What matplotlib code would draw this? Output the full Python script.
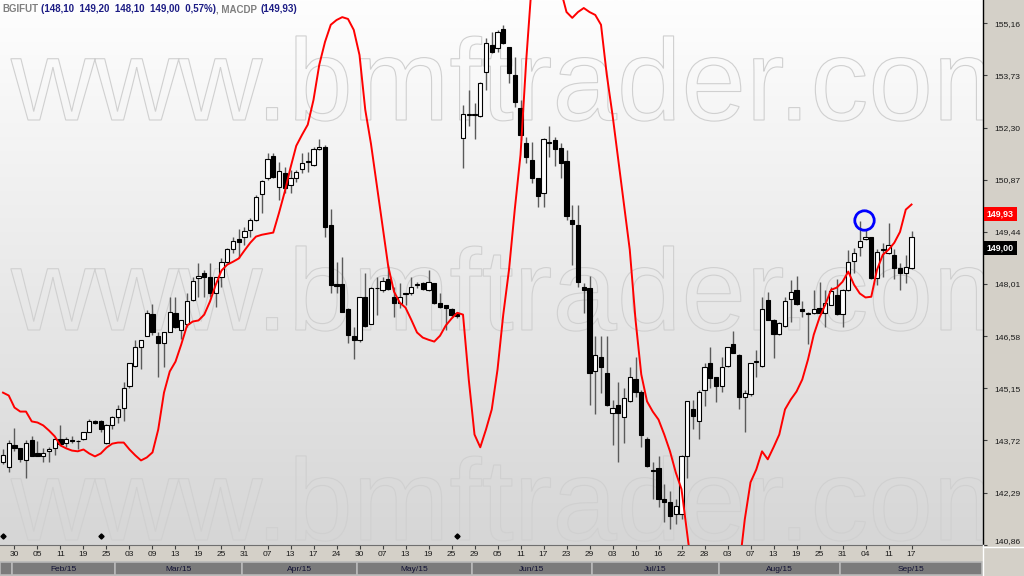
import matplotlib
matplotlib.use("Agg")
import matplotlib.pyplot as plt
import numpy as np
import pandas as pd
from matplotlib.colors import LinearSegmentedColormap
from matplotlib.textpath import TextPath
from matplotlib.patches import PathPatch
from matplotlib.font_manager import FontProperties
from matplotlib.transforms import Affine2D, blended_transform_factory
from matplotlib.lines import Line2D

plt.rcParams['font.family'] = ['Liberation Sans', 'DejaVu Sans']

# BM&F trading calendar, Jan 28 - Sep 17 2015
holidays = ['2015-02-16', '2015-02-17', '2015-04-03', '2015-04-21',
            '2015-05-01', '2015-06-04', '2015-07-09', '2015-09-07']
dates = pd.bdate_range('2015-01-28', '2015-09-17', freq='C', holidays=holidays)

opens = [143.14, 142.98, 143.59, 143.50, 143.17, 143.74, 143.36, 143.28, 143.42, 143.50,
         143.77, 143.66, 143.74, 143.69, 143.77, 143.96, 144.24, 144.24, 143.66, 144.13,
         144.37, 144.62, 145.20, 145.77, 146.27, 146.57, 147.20, 146.59, 146.40, 146.70,
         147.22, 146.76, 146.90, 147.58, 148.18, 148.32, 148.21, 147.77, 148.21, 148.62,
         148.98, 149.25, 149.31, 149.50, 149.77, 150.48, 150.92, 151.53, 150.68, 151.06,
         150.73, 150.92, 151.17, 151.36, 151.28, 151.72, 151.77, 149.64, 148.02, 148.02,
         147.33, 146.59, 146.46, 147.64, 146.92, 147.89, 147.85, 148.16, 147.66, 147.50,
         147.74, 147.77, 147.99, 148.05, 147.85, 148.05, 147.50, 147.44, 147.33, 147.22,
         152.02, 152.65, 152.65, 152.62, 153.83, 154.57, 154.48, 155.01, 154.51, 153.75,
         152.84, 151.88, 151.42, 150.92, 150.51, 151.88, 151.96, 151.75, 151.39, 149.77,
         149.64, 147.94, 147.91, 145.61, 146.02, 145.58, 144.46, 144.70, 144.35, 144.79,
         145.39, 145.06, 143.77, 142.92, 142.95, 142.10, 142.02, 141.69, 141.69, 143.28,
         144.57, 144.24, 145.11, 145.85, 145.47, 145.20, 145.77, 146.35, 146.07, 144.92,
         144.98, 145.88, 145.77, 147.58, 147.03, 146.65, 146.87, 147.61, 147.85, 147.33,
         147.20, 147.22, 147.36, 147.22, 147.44, 147.72, 147.20, 147.85, 148.65, 149.03,
         149.25, 149.31, 148.18, 148.95, 148.87, 148.81, 148.46, 148.32, 148.46]
highs = [143.47, 143.74, 144.07, 143.52, 143.74, 143.85, 143.69, 143.50, 143.55, 143.80,
         144.13, 143.82, 143.85, 143.74, 143.94, 144.32, 144.29, 144.27, 144.18, 144.40,
         144.68, 145.31, 145.85, 146.46, 146.48, 147.31, 147.47, 146.68, 146.70, 147.64,
         147.64, 147.03, 147.77, 148.21, 148.59, 148.40, 148.59, 148.21, 148.73, 149.01,
         149.31, 149.53, 149.58, 149.83, 150.46, 150.87, 151.61, 151.61, 151.36, 151.22,
         151.14, 151.14, 151.61, 151.64, 151.77, 151.99, 151.83, 150.07, 148.62, 148.76,
         147.36, 146.84, 147.66, 148.32, 147.94, 148.21, 148.21, 148.54, 147.94, 148.05,
         147.77, 148.21, 148.07, 148.07, 148.40, 148.05, 147.77, 147.44, 147.36, 147.25,
         152.92, 153.33, 152.98, 153.55, 154.76, 154.92, 154.98, 155.12, 154.51, 154.24,
         153.06, 152.05, 151.91, 150.92, 152.02, 152.35, 152.05, 151.88, 151.69, 150.18,
         150.18, 148.05, 148.24, 146.57, 146.57, 146.57, 144.84, 145.33, 145.17, 145.74,
         146.02, 145.11, 143.80, 143.14, 143.28, 142.51, 142.32, 142.10, 143.33, 144.79,
         144.84, 145.11, 145.85, 146.27, 145.47, 146.02, 146.29, 146.73, 146.10, 145.11,
         145.85, 146.21, 147.64, 147.80, 147.06, 146.98, 147.66, 148.13, 148.24, 147.53,
         147.25, 147.85, 148.07, 147.85, 147.94, 148.16, 147.88, 148.95, 149.01, 149.75,
         149.50, 149.31, 148.98, 149.14, 149.69, 148.98, 148.59, 148.81, 149.47]
lows = [143.06, 142.84, 143.42, 143.14, 142.68, 143.28, 143.28, 143.12, 143.12, 143.31,
        143.58, 143.55, 143.66, 143.47, 143.74, 143.94, 144.18, 143.96, 143.61, 144.02,
        144.21, 144.24, 145.17, 145.74, 145.69, 146.57, 146.62, 145.47, 145.72, 146.68,
        146.81, 146.51, 146.84, 147.55, 147.66, 147.66, 147.66, 147.39, 147.94, 148.59,
        148.87, 148.73, 149.09, 149.31, 149.75, 149.96, 150.87, 150.92, 150.32, 150.51,
        150.51, 150.81, 151.06, 151.09, 151.25, 151.69, 149.31, 147.77, 147.77, 147.25,
        146.40, 145.96, 146.43, 146.84, 146.90, 147.17, 147.80, 147.85, 147.11, 147.36,
        147.44, 147.72, 147.91, 147.85, 147.83, 147.47, 147.36, 146.76, 147.11, 147.08,
        151.20, 152.35, 151.99, 152.59, 153.33, 154.35, 154.38, 154.59, 153.53, 152.87,
        151.96, 151.33, 150.79, 150.13, 150.13, 151.50, 151.25, 150.92, 149.77, 148.54,
        147.94, 147.22, 144.70, 144.43, 145.03, 144.65, 143.58, 143.12, 143.66, 144.76,
        144.92, 143.53, 142.98, 142.10, 141.88, 141.47, 141.28, 141.42, 141.55, 142.70,
        144.02, 143.77, 144.65, 145.17, 144.76, 145.06, 145.72, 146.13, 144.57, 143.94,
        144.95, 145.47, 145.74, 147.01, 145.99, 146.62, 146.84, 146.98, 147.44, 147.11,
        146.35, 147.20, 147.22, 146.84, 147.42, 147.17, 146.84, 147.83, 148.32, 148.79,
        149.22, 148.16, 147.99, 148.21, 148.84, 148.16, 147.85, 148.05, 148.43]
closes = [143.33, 143.66, 143.52, 143.20, 143.66, 143.30, 143.28, 143.36, 143.47, 143.77,
          143.61, 143.77, 143.69, 143.70, 143.94, 144.24, 144.21, 144.02, 144.15, 144.37,
          144.59, 145.17, 145.83, 146.27, 146.46, 147.22, 146.68, 146.40, 146.68, 147.25,
          146.84, 147.01, 147.53, 148.10, 148.24, 148.21, 147.77, 148.21, 148.62, 148.98,
          149.20, 149.17, 149.47, 149.77, 150.40, 150.84, 151.44, 150.95, 151.11, 150.65,
          150.92, 151.09, 151.33, 151.39, 151.72, 151.77, 149.58, 147.99, 147.96, 147.25,
          146.62, 146.46, 147.64, 146.87, 147.91, 147.91, 148.10, 147.88, 147.50, 147.64,
          147.75, 147.94, 148.00, 147.88, 148.07, 147.50, 147.39, 147.36, 147.17, 147.14,
          152.68, 152.66, 152.66, 153.53, 154.62, 154.38, 154.92, 154.62, 153.80, 153.01,
          152.10, 151.50, 150.92, 150.43, 151.99, 151.89, 151.72, 151.33, 149.88, 149.66,
          148.07, 147.85, 145.58, 146.05, 145.72, 144.68, 144.62, 144.48, 144.87, 145.47,
          145.06, 143.88, 143.01, 142.87, 142.10, 142.02, 141.64, 141.91, 143.28, 144.79,
          144.38, 145.06, 145.74, 145.44, 145.20, 145.74, 146.27, 146.13, 144.90, 145.03,
          145.85, 145.89, 147.33, 147.03, 146.65, 146.95, 147.53, 147.80, 147.47, 147.28,
          147.21, 147.33, 147.22, 147.50, 147.83, 147.20, 147.85, 148.62, 148.87, 149.20,
          149.31, 148.18, 148.90, 148.96, 149.09, 148.46, 148.32, 148.48, 149.31]
macdp = [145.03, 144.95, 144.62, 144.51, 144.51, 144.24, 144.21, 144.13, 143.99, 143.83,
         143.58, 143.50, 143.44, 143.42, 143.47, 143.36, 143.28, 143.36, 143.52, 143.63,
         143.66, 143.66, 143.47, 143.31, 143.17, 143.25, 143.39, 144.02, 145.03, 145.61,
         145.88, 146.35, 146.87, 146.98, 147.01, 147.17, 147.53, 147.99, 148.38, 148.54,
         148.62, 148.71, 148.93, 149.14, 149.31, 149.36, 149.39, 149.42, 149.96, 150.54,
         151.20, 151.80, 152.10, 152.38, 153.06, 154.02, 154.65, 155.12, 155.25, 155.33,
         155.28, 154.98, 154.29, 152.79, 151.85, 150.73, 149.61, 148.49, 147.80, 147.50,
         147.36, 147.03, 146.68, 146.54, 146.48, 146.43, 146.59, 146.87, 147.06, 147.22,
         147.17, 145.39, 143.88, 143.53, 144.02, 144.57, 145.66, 147.17, 148.40, 150.05,
         151.55, 154.16, 156.35, 157.44, 157.99, 157.72, 156.90, 156.07, 155.47, 155.31,
         155.47, 155.58, 155.47, 155.39, 155.12, 153.75, 152.65, 151.42, 150.18, 148.95,
         147.03, 145.53, 144.79, 144.51, 144.29, 143.88, 143.42, 142.84, 142.38, 141.14,
         139.91, 138.81, 137.99, 137.44, 137.31, 137.44, 137.85, 138.81, 140.18, 141.55,
         142.57, 142.92, 143.42, 143.20, 143.53, 143.88, 144.57, 144.84, 145.06, 145.39,
         145.94, 146.62, 147.09, 147.44, 147.85, 147.91, 148.07, 148.35, 147.99, 147.75,
         147.64, 147.66, 148.40, 148.81, 148.95, 149.14, 149.44, 150.05, 150.19]

# values quoted in the header / price scale tags
last_quote = [148.10, 149.20, 148.10, 149.00]   # open, high, low, close
change_pct = '0,57%'
macdp_last = 149.93
symbol = 'BGIFUT'
study = 'MACDP'

price_ticks = [140.86, 142.29, 143.72, 145.15, 146.58, 148.01, 149.44, 150.87, 152.30, 153.73, 155.16]
event_idx = [0, 17, 79]
event_price = 141.09
circle_idx, circle_price = 149.7, 149.77


def br(v):
    return f'{v:.2f}'.replace('.', ',')


W, H = 1024, 576
fig = plt.figure(figsize=(W / 100, H / 100), dpi=100, facecolor='#d4d0c8')
ax = fig.add_axes([0, 31 / H, 983 / W, 545 / H])

# plot background gradient
bg = LinearSegmentedColormap.from_list('bg', ['#d6d6d6', '#fefefe'])
ax.imshow(np.linspace(0, 1, 256).reshape(-1, 1), cmap=bg, extent=[0, 1, 0, 1],
          transform=ax.transAxes, aspect='auto', zorder=0, origin='lower')

# watermark
tp = TextPath((0, 0), 'www.bmftrader.com', size=116, prop=FontProperties(family='Liberation Sans'))
for base in (120, 330, 540):
    wm = PathPatch(tp, transform=Affine2D().translate(11, H - base), fc='none',
                   ec='#d0d0d0', lw=0.8, zorder=1)
    ax.add_patch(wm)

x = np.arange(len(dates))
o, hi, lo, c = map(np.array, (opens, highs, lows, closes))
up = c >= o
ax.vlines(x, lo, hi, color='#5a5a5a', lw=1, zorder=3)
bot = np.minimum(o, c)
hgt = np.maximum(np.abs(c - o), 0.015)
ax.bar(x[up], hgt[up], bottom=bot[up], width=0.72, color='white', edgecolor='black', lw=0.8, zorder=4)
ax.bar(x[~up], hgt[~up], bottom=bot[~up], width=0.72, color='black', edgecolor='black', lw=0.8, zorder=4)

ax.plot(x, macdp, color='#ff0000', lw=1.4, zorder=5)
ax.plot([circle_idx], [circle_price], 'o', ms=14, mfc='none', mec='#0000ff', mew=2, zorder=6)
ax.plot(event_idx, [event_price] * len(event_idx), 'D', ms=2.6, color='black', zorder=6)

ax.set_xlim(-0.52, 170.43)
ax.set_ylim(140.85, 155.80)

ax.yaxis.tick_right()
ax.set_yticks(price_ticks)
ax.set_yticklabels([br(v) for v in price_ticks])
ax.get_yticklabels()[0].set_va('bottom')
ax.tick_params(axis='y', direction='out', length=3, width=0.8, color='#404040',
               labelsize=6.1, labelcolor='#1a1a1a', pad=5)

xt = list(range(2, len(dates), 4))
ax.set_xticks(xt)
ax.set_xticklabels([dates[i].strftime('%d') for i in xt])
ax.tick_params(axis='x', direction='out', length=3, width=0.8, color='#404040',
               labelsize=6, labelcolor='#1a1a1a', pad=1.5)

for s in ('top', 'left'):
    ax.spines[s].set_visible(False)
ax.spines['right'].set_color('black')
ax.spines['right'].set_linewidth(1)
ax.spines['bottom'].set_color('#707070')
ax.spines['bottom'].set_linewidth(0.8)

# last value tags on the price scale
tr = blended_transform_factory(ax.transAxes, ax.transData)
ax.text(1.004, macdp_last, br(macdp_last), transform=tr, color='white', fontsize=6.4,
        fontweight='bold', va='center', ha='left', clip_on=False, zorder=10,
        bbox=dict(boxstyle='square,pad=0.3', fc='#ff0000', ec='none'))
ax.text(1.004, last_quote[3], br(last_quote[3]), transform=tr, color='white', fontsize=6.4,
        fontweight='bold', va='center', ha='left', clip_on=False, zorder=10,
        bbox=dict(boxstyle='square,pad=0.3', fc='black', ec='none'))

# header
renderer = fig.canvas.get_renderer()
parts = [(symbol, '#7f7f7f', 3),
         ('(' + '  '.join(br(v) for v in last_quote) + '  ' + change_pct + ')', '#1c1c84', 0),
         (', ' + study, '#7f7f7f', 3),
         ('(' + br(macdp_last) + ')', '#1c1c84', 0)]
xpos = 2
for txt, col, gap in parts:
    t = fig.text(xpos / W, 1 - 12 / H, txt, color=col, fontsize=7, fontweight='bold',
                 va='baseline', ha='left')
    xpos += t.get_window_extent(renderer).width + gap

# month bar
axm = fig.add_axes([0, 0, 983 / W, 15 / H], sharex=ax)
axm.set_facecolor('#d4d0c8')
axm.set_ylim(0, 1)
axm.axis('off')
month_start = [i for i in range(1, len(dates)) if dates[i].month != dates[i - 1].month]
edges = [-0.52] + [m - 1.5 for m in month_start] + [170.2]
for k in range(len(edges) - 1):
    axm.axvspan(edges[k], edges[k + 1], ymin=0.05, ymax=0.95, fc='#7b7b7b', ec='#b8b8b8', lw=1.2)
    if k > 0:
        axm.text((edges[k] + edges[k + 1]) / 2, 0.45, dates[month_start[k - 1]].strftime('%b/%y'),
                 ha='center', va='center', fontsize=6, color='#111133')

fig.add_artist(Line2D([983 / W, 983 / W], [0, 31 / H], color='white', lw=1))
fig.add_artist(Line2D([983 / W, 1], [29 / H, 29 / H], color='white', lw=1))

fig.savefig('out.png', dpi=100, facecolor=fig.get_facecolor())
